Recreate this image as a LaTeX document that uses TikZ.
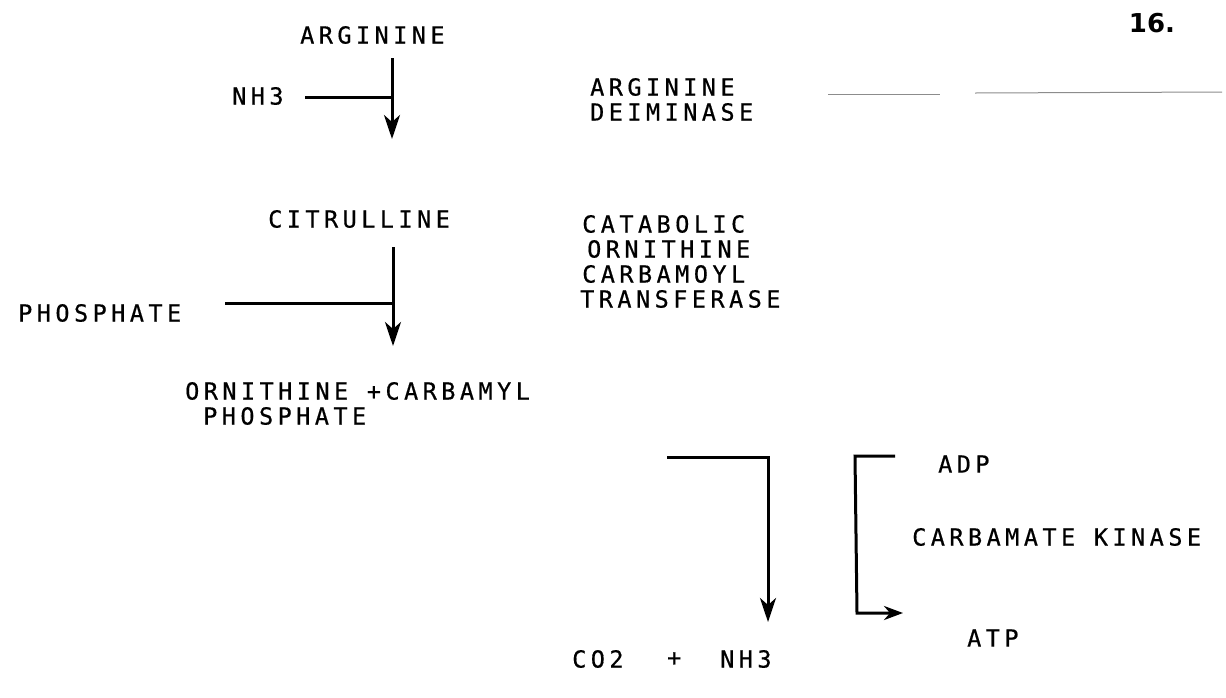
\documentclass[tikz,border=0pt]{standalone}
\usepackage{fontspec}
\usetikzlibrary{arrows.meta}
\newfontfamily\plotfont[FakeBold=0.6, LetterSpace=19]{DejaVu Sans Mono}
\newfontfamily\pagefont{DejaVu Sans}
\tikzset{
  lbl/.style={inner sep=0pt, anchor=west, font=\plotfont\fontsize{23.5}{24}\selectfont, text=black},
  flow/.style={line width=3pt, line cap=butt},
  down/.style={flow, -{Stealth[length=24pt,width=16pt,inset=7pt]}},
  side/.style={flow, -{Stealth[length=19pt,width=14pt,inset=6pt]}},
  faint/.style={line width=1pt, black!45}
}
\begin{document}
\begin{tikzpicture}[x=1pt,y=-1pt]
\useasboundingbox[fill=white] (0,0) rectangle (1226,697);
% texts
\node[lbl] (arg) at (300,35) {ARGININE};
\node[lbl] (nh3a) at (232,96) {NH3};
\node[lbl] (ad1) at (590,87) {ARGININE};
\node[lbl] (ad2) at (590,112) {DEIMINASE};
\node[inner sep=0pt, font=\pagefont\bfseries\fontsize{26}{28}\selectfont] (page) at (1152,23) {16.};
\node[lbl] (cit) at (268,219) {CITRULLINE};
\node[lbl] (pho) at (18,313) {PHOSPHATE};
\node[lbl] (c1) at (582,224) {CATABOLIC};
\node[lbl] (c2) at (587,249) {ORNITHINE};
\node[lbl] (c3) at (582,274) {CARBAMOYL};
\node[lbl] (c4) at (580,299) {TRANSFERASE};
\node[lbl] (orn) at (185,391) {ORNITHINE +CARBAMYL};
\node[lbl] (orn2) at (203,416) {PHOSPHATE};
\node[lbl] (adp) at (938,464) {ADP};
\node[lbl] (ck) at (912,537) {CARBAMATE KINASE};
\node[lbl] (atp) at (967,638) {ATP};
\node[lbl] (co2) at (572,659) {CO2};
\node[lbl] (plus) at (667,659) {+};
\node[lbl] (nh3b) at (720,659) {NH3};
% coordinates
\coordinate (a1s) at (392,58);
\coordinate (a1j) at (392,97);
\coordinate (a1t) at (392,139);
\coordinate (b1s) at (305,97);
\coordinate (a2s) at (393,247);
\coordinate (a2j) at (393,303);
\coordinate (a2t) at (393,346);
\coordinate (b2s) at (225,303);
\coordinate (k1s) at (667,457);
\coordinate (k1c) at (768,457);
\coordinate (k1t) at (768,622);
\coordinate (k2s) at (895,456);
\coordinate (k2c) at (855,456);
\coordinate (k2b) at (857,613);
\coordinate (k2t) at (903,613);
\coordinate (r1) at (828,94);
\coordinate (r2) at (940,94);
\coordinate (r3) at (975,93);
\coordinate (r4) at (1222,92);
% connectors
\draw[down] (a1s) -- (a1t);
\draw[flow] (b1s) -- (a1j);
\draw[down] (a2s) -- (a2t);
\draw[flow] (b2s) -- (a2j);
\draw[down] (k1s) -- (k1c) -- (k1t);
\draw[side] (k2s) -- (k2c) -- (k2b) -- (k2t);
% faint rule
\draw[faint] (r1) -- (r2);
\draw[faint] (r3) -- (r4);
\end{tikzpicture}
\end{document}
